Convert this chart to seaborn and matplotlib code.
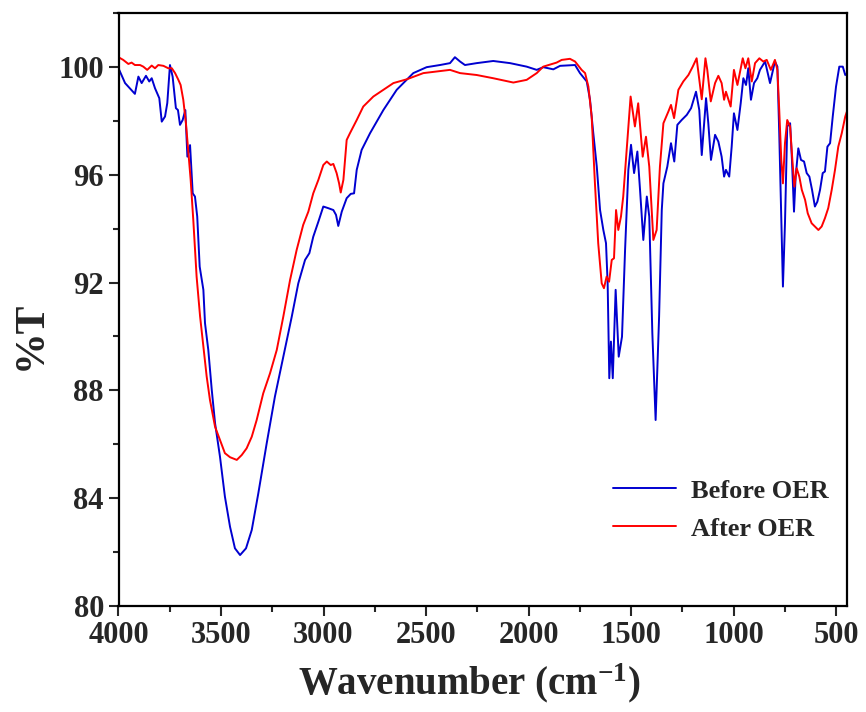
import matplotlib

matplotlib.use("Agg")

import matplotlib.pyplot as plt
import pandas as pd
import seaborn as sns
from matplotlib.ticker import MultipleLocator

# FTIR spectra (wavenumber in cm-1, %T)
before_wn = [
    4000, 3968, 3944, 3920, 3903, 3887, 3866, 3850, 3838, 3822, 3811, 3801, 3789, 3773,
    3762, 3749, 3736, 3720, 3710, 3700, 3687, 3674, 3664, 3651, 3638, 3627, 3616, 3604,
    3586, 3578, 3562, 3545, 3529, 3505, 3481, 3456, 3432, 3407, 3378, 3350, 3318, 3277,
    3237, 3196, 3155, 3123, 3090, 3069, 3050, 3025, 3001, 2977, 2952, 2939, 2928, 2911,
    2887, 2867, 2851, 2838, 2814, 2773, 2708, 2643, 2562, 2497, 2432, 2383, 2359, 2334,
    2310, 2253, 2172, 2090, 2009, 1960, 1928, 1879, 1846, 1773, 1749, 1716, 1700, 1684,
    1667, 1651, 1635, 1622, 1614, 1606, 1598, 1589, 1575, 1560, 1544, 1529, 1513, 1500,
    1485, 1469, 1456, 1440, 1423, 1411, 1396, 1380, 1363, 1350, 1342, 1323, 1305, 1289,
    1274, 1253, 1228, 1207, 1183, 1167, 1155, 1134, 1123, 1110, 1090, 1074, 1058, 1046,
    1037, 1021, 1009, 998, 981, 965, 952, 939, 928, 915, 900, 884, 871, 846, 822, 798,
    786, 777, 767, 759, 749, 738, 724, 715, 705, 697, 684, 671, 656, 643, 630, 617, 603,
    591, 578, 565, 554, 542, 529, 516, 500, 484, 467, 455, 447,
]
before_t = [
    99.95, 99.40, 99.20, 99.00, 99.64, 99.40, 99.67, 99.46, 99.58, 99.21, 99.02, 98.84,
    97.97, 98.16, 98.66, 100.07, 99.64, 98.47, 98.40, 97.85, 98.03, 98.40, 96.67, 97.10,
    95.31, 95.19, 94.45, 92.59, 91.73, 90.49, 89.50, 88.01, 86.78, 85.54, 84.06, 82.94,
    82.14, 81.89, 82.14, 82.82, 84.18, 86.04, 87.77, 89.25, 90.73, 91.97, 92.84, 93.09,
    93.70, 94.26, 94.82, 94.76, 94.69, 94.51, 94.10, 94.63, 95.13, 95.29, 95.31, 96.18,
    96.92, 97.54, 98.40, 99.15, 99.77, 99.99, 100.07, 100.14, 100.36, 100.20, 100.07,
    100.14, 100.22, 100.14, 100.01, 99.89, 99.99, 99.91, 100.04, 100.07, 99.77, 99.46,
    98.78, 97.54, 96.30, 94.69, 93.95, 93.46, 91.97, 88.45, 89.81, 88.45, 91.73, 89.25,
    89.99, 93.21, 96.18, 97.11, 96.06, 96.86, 95.44, 93.58, 95.19, 94.45, 90.12, 86.90,
    90.74, 94.69, 95.68, 96.30, 97.17, 96.49, 97.85, 98.03, 98.22, 98.47, 99.08, 98.40,
    96.73, 98.84, 97.91, 96.55, 97.48, 97.23, 96.67, 95.93, 96.18, 95.93, 97.04, 98.28,
    97.66, 98.65, 99.58, 99.33, 99.95, 98.78, 99.40, 99.58, 99.89, 100.20, 99.40, 100.20,
    100.01, 97.54, 94.45, 91.85, 94.20, 97.79, 97.91, 96.55, 94.63, 95.93, 96.98, 96.55,
    96.49, 96.06, 95.93, 95.44, 94.82, 95.00, 95.44, 96.06, 96.12, 97.04, 97.17, 98.16,
    99.27, 100.01, 100.01, 99.70, 99.75,
]

after_wn = [
    4000, 3977, 3952, 3936, 3920, 3895, 3879, 3860, 3838, 3822, 3806, 3781, 3757, 3740,
    3724, 3708, 3697, 3684, 3671, 3660, 3648, 3635, 3619, 3602, 3586, 3570, 3554, 3529,
    3505, 3481, 3456, 3423, 3399, 3375, 3350, 3326, 3294, 3261, 3228, 3196, 3163, 3131,
    3099, 3074, 3050, 3025, 3001, 2984, 2965, 2952, 2936, 2924, 2916, 2903, 2887, 2871,
    2838, 2806, 2757, 2708, 2659, 2594, 2513, 2448, 2383, 2334, 2253, 2172, 2074, 2009,
    1960, 1928, 1863, 1838, 1798, 1773, 1741, 1724, 1708, 1692, 1676, 1660, 1643, 1632,
    1619, 1607, 1594, 1583, 1573, 1562, 1549, 1538, 1521, 1502, 1481, 1465, 1443, 1427,
    1411, 1391, 1375, 1359, 1342, 1318, 1305, 1290, 1269, 1245, 1220, 1199, 1180, 1155,
    1137, 1128, 1111, 1090, 1074, 1058, 1046, 1037, 1014, 998, 981, 955, 942, 928, 911,
    895, 874, 855, 838, 818, 798, 786, 777, 767, 759, 749, 738, 724, 713, 703, 692, 679,
    667, 651, 638, 619, 603, 586, 570, 554, 538, 521, 505, 489, 472, 455, 447,
]
after_t = [
    100.36, 100.26, 100.11, 100.16, 100.07, 100.07, 100.01, 99.89, 100.05, 99.95, 100.07,
    100.04, 99.95, 99.95, 99.77, 99.52, 99.33, 98.78, 97.91, 96.92, 95.81, 94.30, 92.22,
    90.74, 89.63, 88.52, 87.65, 86.65, 86.16, 85.67, 85.52, 85.42, 85.60, 85.85, 86.28,
    86.90, 87.89, 88.63, 89.50, 90.74, 92.10, 93.21, 94.14, 94.63, 95.31, 95.81, 96.36,
    96.49, 96.36, 96.40, 96.06, 95.68, 95.34, 95.81, 97.29, 97.54, 98.03, 98.53, 98.90,
    99.15, 99.40, 99.54, 99.77, 99.83, 99.89, 99.77, 99.70, 99.58, 99.42, 99.52, 99.77,
    100.01, 100.16, 100.26, 100.30, 100.20, 99.89, 99.77, 99.27, 98.16, 95.68, 93.46,
    91.97, 91.79, 92.22, 92.03, 92.84, 92.90, 94.69, 93.95, 94.45, 95.19, 96.92, 98.90,
    97.79, 98.65, 96.67, 97.41, 96.30, 93.58, 93.95, 96.30, 97.91, 98.34, 98.59, 98.10,
    99.15, 99.46, 99.70, 100.01, 100.32, 98.80, 100.32, 99.89, 98.72, 99.40, 99.67, 99.40,
    98.78, 99.08, 98.53, 99.89, 99.33, 100.32, 99.95, 100.32, 99.46, 100.14, 100.32,
    100.20, 100.26, 99.89, 100.26, 99.89, 98.40, 96.55, 95.68, 97.17, 98.03, 97.79, 96.55,
    95.56, 96.24, 95.93, 95.44, 95.07, 94.57, 94.20, 94.08, 93.95, 94.08, 94.39, 94.76,
    95.44, 96.18, 97.04, 97.54, 98.16, 98.34,
]

labels = ["Before OER", "After OER"]
colors = {"Before OER": "#0000d0", "After OER": "#ff0000"}


def build_frame():
    before = pd.DataFrame({"wn": before_wn, "T": before_t, "sample": labels[0]})
    after = pd.DataFrame({"wn": after_wn, "T": after_t, "sample": labels[1]})
    return pd.concat([before, after], ignore_index=True)


def main():
    sns.set_theme(style="ticks")
    plt.rcParams["font.family"] = ["Liberation Serif", "DejaVu Serif"]
    plt.rcParams["font.weight"] = "bold"
    plt.rcParams["mathtext.fontset"] = "custom"
    plt.rcParams["mathtext.rm"] = "Liberation Serif:bold"
    plt.rcParams["mathtext.default"] = "rm"

    df = build_frame()

    fig = plt.figure(figsize=(8.66, 7.12), dpi=100)
    ax = fig.add_axes([118.5 / 866, 106 / 712, 728.8 / 866, 593 / 712])

    sns.lineplot(
        data=df, x="wn", y="T", hue="sample", hue_order=labels, palette=colors,
        estimator=None, sort=False, linewidth=1.4, ax=ax,
    )

    ax.set_xlim(4000, 445)
    ax.set_ylim(80, 102)
    ax.xaxis.set_major_locator(MultipleLocator(500))
    ax.xaxis.set_minor_locator(MultipleLocator(250))
    ax.yaxis.set_major_locator(MultipleLocator(4))
    ax.yaxis.set_minor_locator(MultipleLocator(2))

    ax.tick_params(which="major", direction="out", length=7.5, width=1.5,
                   labelsize=22, top=False, right=False, pad=3)
    ax.tick_params(which="minor", direction="out", length=4.5, width=1.5,
                   top=False, right=False)
    for lab in ax.get_xticklabels() + ax.get_yticklabels():
        lab.set_fontweight("bold")
    for spine in ax.spines.values():
        spine.set_linewidth(1.6)
        spine.set_color("black")

    ax.set_xlabel(r"Wavenumber (cm$^{-1}$)", fontsize=28, fontweight="bold")
    ax.set_ylabel("%T", fontsize=30, fontweight="bold")
    ax.xaxis.set_label_coords(0.482, -0.094)
    ax.yaxis.set_label_coords(-0.094, 0.457)

    ax.legend(
        loc="center left", bbox_to_anchor=(0.6785, 0.162), frameon=False,
        handlelength=2.4, handletextpad=0.55, labelspacing=0.55,
        borderpad=0, borderaxespad=0, prop={"weight": "bold", "size": 19},
    )

    fig.savefig("out.png", dpi=100)
    plt.close(fig)


if __name__ == "__main__":
    main()
